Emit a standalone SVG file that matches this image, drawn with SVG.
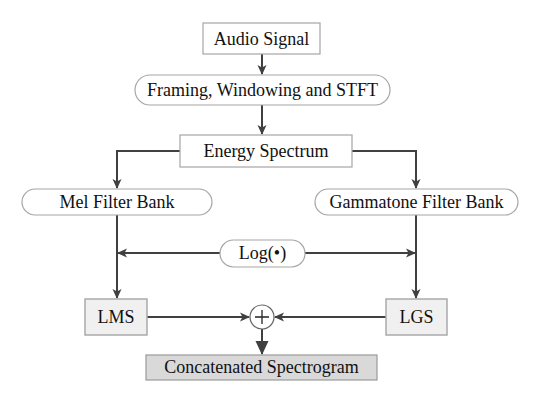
<svg xmlns="http://www.w3.org/2000/svg" width="540" height="400" viewBox="0 0 540 400">
<style>
.box{fill:#fff;stroke:#a6a6a6;stroke-width:1.2}
.gbox{fill:#f0f0f0;stroke:#aaaaaa;stroke-width:1.5}
.dbox{fill:#d9d9d9;stroke:#999;stroke-width:1.2}
.ln{stroke:#404040;stroke-width:2;fill:none}
.t{font-family:'Liberation Serif','Times New Roman','DejaVu Serif',serif;font-size:18px;fill:#111;text-anchor:middle}
</style>
<defs>
<marker id="ah" markerWidth="10" markerHeight="10" refX="9" refY="5" orient="auto" markerUnits="userSpaceOnUse">
<path d="M0,0.5 L10,5 L0,9.5 L2.5,5 Z" fill="#404040"/>
</marker>
<marker id="ab" markerWidth="14" markerHeight="14" refX="13" refY="7" orient="auto" markerUnits="userSpaceOnUse">
<path d="M0,0.5 L14,7 L0,13.5 Z" fill="#404040"/>
</marker>
</defs>
<g id="connectors">
<line class="ln" x1="262" y1="54" x2="262" y2="74" marker-end="url(#ah)"/>
<line class="ln" x1="262" y1="105" x2="262" y2="134" marker-end="url(#ah)"/>
<polyline class="ln" points="180,151 117,151 117,188" marker-end="url(#ah)"/>
<polyline class="ln" points="352,151 416,151 416,188" marker-end="url(#ah)"/>
<line class="ln" x1="220" y1="253" x2="118" y2="253" marker-end="url(#ah)"/>
<line class="ln" x1="305" y1="253" x2="415" y2="253" marker-end="url(#ah)"/>
<line class="ln" x1="117" y1="215" x2="117" y2="298" marker-end="url(#ah)"/>
<line class="ln" x1="416" y1="215" x2="416" y2="298" marker-end="url(#ah)"/>
<line class="ln" x1="147" y1="317" x2="249" y2="317" marker-end="url(#ah)"/>
<line class="ln" x1="386" y1="317" x2="275" y2="317" marker-end="url(#ah)"/>
<line class="ln" x1="262" y1="329" x2="262" y2="354" stroke-width="2.5" marker-end="url(#ab)"/>
</g>
<g id="audio"><rect class="box" x="203" y="23" width="117" height="31"/><text class="t" x="261.5" y="45">Audio Signal</text></g>
<g id="framing"><rect class="box" x="135" y="75" width="255" height="30" rx="15"/><text class="t" x="262.5" y="96">Framing, Windowing and STFT</text></g>
<g id="energy"><rect class="box" x="180" y="135" width="172" height="32"/><text class="t" x="266" y="157">Energy Spectrum</text></g>
<g id="mel"><rect class="box" x="22" y="189" width="190" height="26" rx="13"/><text class="t" x="117" y="208">Mel Filter Bank</text></g>
<g id="gamma"><rect class="box" x="315" y="189" width="203" height="26" rx="13"/><text class="t" x="416.5" y="208">Gammatone Filter Bank</text></g>
<g id="log"><rect class="box" x="220" y="240" width="85" height="27" rx="13.5"/><text class="t" x="262.5" y="259">Log(•)</text></g>
<g id="lms"><rect class="gbox" x="85" y="299" width="62" height="36"/><text class="t" x="116" y="323">LMS</text></g>
<g id="lgs"><rect class="gbox" x="386" y="299" width="61" height="36"/><text class="t" x="416.5" y="323">LGS</text></g>
<g id="plus"><circle cx="262" cy="317" r="12" fill="#fff" stroke="#666" stroke-width="1.2"/><path d="M255,317 H269 M262,310 V324" stroke="#222" stroke-width="1.3"/></g>
<g id="concat"><rect class="dbox" x="146" y="355" width="231" height="25"/><text class="t" x="261.5" y="373">Concatenated Spectrogram</text></g>
</svg>
